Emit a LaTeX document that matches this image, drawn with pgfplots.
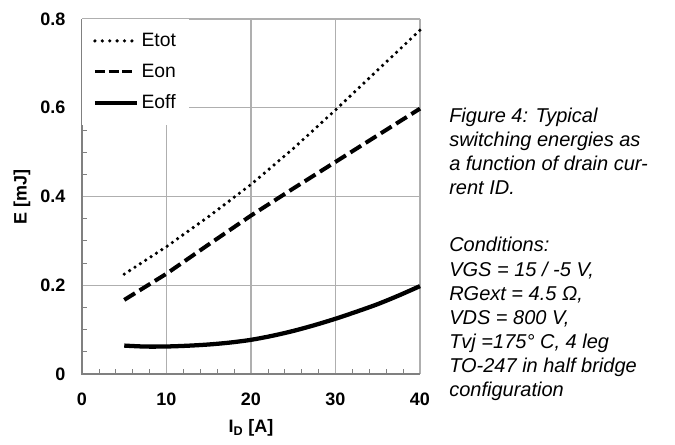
\documentclass[border=0pt]{standalone}
\usepackage{pgfplots}
\pgfplotsset{compat=1.18}
\usepackage{fontspec}
\setmainfont{Liberation Sans}
\definecolor{axgray}{RGB}{128,128,128}
\definecolor{gridgray}{RGB}{175,175,175}
\begin{document}
\begin{tikzpicture}
\path[use as bounding box] (0pt,0pt) rectangle (506.25pt,333.75pt);
\begin{axis}[
  at={(61.5pt,53.25pt)}, anchor=south west,
  scale only axis,
  width=253.5pt, height=266.25pt,
  xmin=0, xmax=40, ymin=0, ymax=0.8,
  xtick={0,10,20,30,40}, ytick={0,0.2,0.4,0.6,0.8},
  minor x tick num=4, minor y tick num=3,
  yticklabels={0,0.2,0.4,0.6,0.8},
  grid=major,
  major grid style={gridgray, line width=0.9pt},
  axis line style={draw=none},
  major tick length=0pt,
  minor tick length=3.5pt,
  minor tick style={axgray, line width=0.6pt},
  xtick pos=bottom, ytick pos=left,
  tick align=inside,
  ticklabel style={font=\fontsize{13.5}{15}\selectfont\bfseries},
  /pgf/number format/assume math mode=true,
  xticklabel style={yshift=-11pt},
  yticklabel style={xshift=-9pt},
  xlabel={\textbf{I\textsubscript{D} [A]}},
  ylabel={\textbf{E [mJ]}},
  label style={font=\fontsize{13.5}{15}\selectfont},
  xlabel style={yshift=-3pt},
  ylabel style={yshift=0.5pt},
  clip=false,
  legend cell align=left,
  legend style={at={(0,1)}, anchor=north west, draw=none, fill=white,
    font=\fontsize{14.5}{16}\selectfont, inner xsep=8pt, inner ysep=8.5pt,
    row sep=7.5pt},
  legend image code/.code={\draw[#1] (0pt,0pt) -- (28pt,0pt); \path (31pt,0pt);},
]
\addlegendimage{black, line width=2.7pt, line cap=round, dash pattern=on 0pt off 5.55pt}
\addlegendentry{Etot}
\addlegendimage{black, line width=2.8pt, dash pattern=on 7.5pt off 2.8pt}
\addlegendentry{Eon}
\addlegendimage{black, line width=3pt, legend image code/.code={\draw[black, line width=3pt] (0pt,0pt) -- (31.5pt,0pt);}}
\addlegendentry{Eoff}
\addplot[forget plot, black, line width=2.7pt, line cap=round, dash pattern=on 0pt off 4.8pt] coordinates {
(5,0.225) (10,0.287) (15,0.355) (20,0.427) (25,0.508) (30,0.595) (35,0.685) (40,0.775)};
\addplot[forget plot, black, line width=3pt, dash pattern=on 9.5pt off 4pt] coordinates {
(5,0.167) (10,0.226) (15,0.292) (20,0.357) (25,0.418) (30,0.478) (35,0.538) (40,0.598)};
\addplot[forget plot, black, line width=3.2pt, smooth] coordinates {
(5,0.064) (7.5,0.0618) (10,0.0620) (12.5,0.0637) (15,0.0665) (17.5,0.0708) (20,0.0770) (22.5,0.0860) (25,0.0970) (27.5,0.1100) (30,0.1245) (32.5,0.1405) (35,0.1575) (37.5,0.1770) (40,0.198)};
\draw[axgray, line width=1pt] (axis cs:0,0.8) -- (axis cs:0,0) -- (axis cs:40,0);
\end{axis}
\begin{scope}[x=0.75pt,y=0.75pt,every node/.style={anchor=base west, inner sep=0pt, font=\fontsize{15}{18}\selectfont\itshape}]
\node at (449,445-122.7) {Figure 4: Typical};
\node at (449,445-146.7) {switching energies as};
\node at (449,445-170.7) {a function of drain cur-};
\node at (449,445-194.7) {rent ID.};
\node at (449,445-251.7) {Conditions:};
\node at (449,445-276.2) {VGS = 15 / -5 V,};
\node at (449,445-300.5) {RGext = 4.5 Ω,};
\node at (449,445-324.5) {VDS = 800 V,};
\node at (449,445-348.5) {Tvj =175° C, 4 leg};
\node at (449,445-372.7) {TO-247 in half bridge};
\node at (449,445-396.7) {configuration};
\end{scope}
\end{tikzpicture}
\end{document}
